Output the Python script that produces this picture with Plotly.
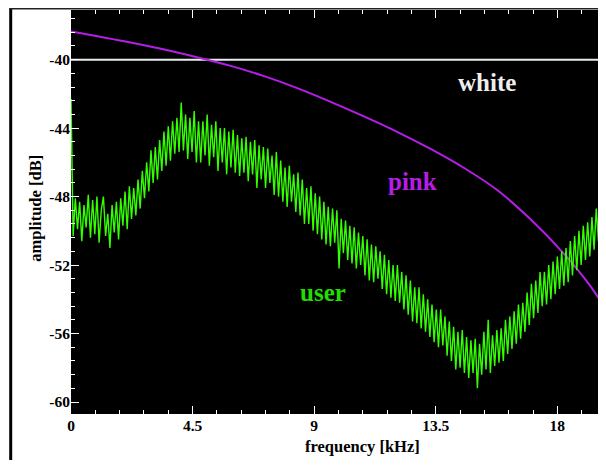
import plotly.graph_objects as go

# ---- data ----
x_ticks = [0, 4.5, 9, 13.5, 18]
x_tick_labels = ["0", "4.5", "9", "13.5", "18"]
y_ticks = [-40, -44, -48, -52, -56, -60]
y_tick_labels = ["-40", "-44", "-48", "-52", "-56", "-60"]

white_level = -40.0

pink_freq = [0, 2.06, 3.29, 4.77, 5.88, 7.12, 8.35, 9.59, 10.82, 12.05, 13.29,
             14.52, 15.76, 16.99, 18.22, 19.21, 19.8]
pink_db = [-38.35, -38.95, -39.35, -39.9, -40.35, -40.95, -41.65, -42.45, -43.3,
           -44.2, -45.2, -46.3, -47.6, -49.3, -51.3, -53.2, -54.6]

user_step_khz = 0.08
user_db = [
    -42.3, -50.3, -48.1, -49.9, -48.3, -50.6, -48.5, -49.8, -47.9, -50.4,
    -48.2, -50.2, -48.0, -50.7, -48.8, -48.0, -50.3, -49.0, -51.0, -48.5,
    -50.1, -48.3, -50.5, -48.1, -49.7, -47.7, -49.9, -47.4, -49.3, -47.5,
    -49.1, -47.0, -48.7, -46.5, -48.1, -46.0, -47.7, -45.3, -47.2, -45.1,
    -47.0, -44.7, -46.5, -44.2, -46.2, -43.9, -45.9, -43.6, -45.5, -43.4,
    -45.4, -42.5, -45.3, -43.2, -45.8, -43.4, -45.4, -43.0, -46.0, -43.6,
    -46.0, -43.6, -45.6, -43.2, -46.2, -43.8, -45.7, -43.6, -46.5, -44.0,
    -46.0, -44.0, -46.7, -44.2, -46.3, -44.1, -46.6, -44.4, -46.8, -44.6,
    -46.6, -44.5, -47.1, -44.8, -46.7, -44.7, -47.5, -45.0, -47.0, -45.1,
    -47.5, -45.2, -47.2, -45.6, -47.9, -45.4, -48.0, -45.9, -48.3, -46.3,
    -48.6, -46.2, -48.3, -46.7, -48.9, -46.6, -49.1, -47.0, -49.6, -47.5,
    -49.6, -47.4, -50.0, -47.8, -50.2, -48.0, -50.5, -48.3, -50.8, -48.6,
    -50.9, -48.7, -50.7, -48.8, -52.2, -49.3, -51.3, -49.4, -51.7, -49.7,
    -51.9, -49.8, -52.2, -50.1, -52.0, -50.3, -52.6, -50.5, -52.9, -50.8,
    -53.0, -50.9, -52.8, -51.2, -53.4, -51.4, -53.7, -51.7, -53.9, -52.0,
    -54.1, -52.0, -54.2, -52.4, -54.6, -52.6, -54.9, -52.9, -55.3, -53.3,
    -55.4, -53.3, -55.7, -53.7, -55.9, -54.0, -56.2, -54.3, -56.5, -54.6,
    -56.8, -54.6, -56.7, -55.0, -57.3, -55.3, -57.6, -55.6, -58.1, -55.9,
    -58.0, -55.8, -58.3, -56.2, -58.6, -56.4, -58.3, -56.3, -59.2, -56.6,
    -58.4, -55.9, -58.1, -55.2, -58.3, -56.1, -57.9, -55.8, -57.7, -55.7,
    -57.6, -55.2, -57.2, -55.0, -56.9, -54.7, -56.6, -54.3, -56.3, -54.2,
    -55.9, -53.6, -55.5, -53.1, -55.1, -52.9, -54.8, -52.4, -54.4, -52.4,
    -54.3, -52.0, -54.0, -51.8, -53.7, -51.5, -53.4, -51.2, -53.2, -51.0,
    -53.0, -50.6, -52.6, -50.3, -52.3, -50.0, -52.0, -49.7, -51.7, -49.5,
    -51.5, -49.2, -51.1, -48.7, -50.6, -48.1, -49.9, -47.7,
]
user_freq = [round(i * user_step_khz, 2) for i in range(len(user_db))]

x_range = [0, 19.8]
y_range = [-60.7, -37.1]

SERIF = "Liberation Serif"
GREEN = "#33ff00"
PINK = "#b41ee6"

fig = go.Figure()
fig.add_trace(go.Scatter(x=x_range, y=[white_level, white_level], mode="lines",
                         line=dict(color="#e6eeee", width=2), hoverinfo="skip"))
fig.add_trace(go.Scatter(x=pink_freq, y=pink_db, mode="lines",
                         line=dict(color=PINK, width=2, shape="spline", smoothing=0.8),
                         hoverinfo="skip"))
fig.add_trace(go.Scatter(x=user_freq, y=user_db, mode="lines",
                         line=dict(color=GREEN, width=1.4), hoverinfo="skip"))

tickfont = dict(family=SERIF, size=15.5, color="black", weight="bold")

fig.update_xaxes(range=x_range, tickmode="array", tickvals=x_ticks, ticktext=x_tick_labels,
                 ticks="inside", ticklen=8, tickwidth=1, tickcolor="white",
                 minor=dict(dtick=0.9, tick0=0, ticks="inside", ticklen=4, tickcolor="white"),
                 mirror="ticks", showgrid=False, zeroline=False, showline=False,
                 tickfont=tickfont)
fig.update_yaxes(range=y_range, tickmode="array", tickvals=y_ticks, ticktext=y_tick_labels,
                 ticks="inside", ticklen=8, tickwidth=1, tickcolor="white",
                 minor=dict(dtick=0.8, tick0=-60, ticks="inside", ticklen=4, tickcolor="white"),
                 mirror="ticks", showgrid=False, zeroline=False, showline=False,
                 tickfont=tickfont)

annotations = [
    dict(text="frequency [kHz]", x=0.544, y=-0.081, xref="paper", yref="paper",
         showarrow=False, font=dict(family=SERIF, size=16.5, color="black", weight="bold"),
         xanchor="center", yanchor="middle"),
    dict(text="amplitude [dB]", x=-0.066, y=0.51, xref="paper", yref="paper",
         showarrow=False, textangle=-90,
         font=dict(family=SERIF, size=16.5, color="black", weight="bold"),
         xanchor="center", yanchor="middle"),
    dict(text="white", x=15.38, y=-41.35, xref="x", yref="y", showarrow=False,
         font=dict(family=SERIF, size=25, color="#eeeeee", weight="bold")),
    dict(text="pink", x=12.65, y=-47.1, xref="x", yref="y", showarrow=False,
         font=dict(family=SERIF, size=25, color=PINK, weight="bold")),
    dict(text="user", x=9.33, y=-53.6, xref="x", yref="y", showarrow=False,
         font=dict(family=SERIF, size=25, color="#22dd00", weight="bold")),
]

shapes = [
    dict(type="line", xref="paper", yref="paper", x0=-0.1127, x1=-0.1127, y0=1.004, y1=-0.3,
         line=dict(color="black", width=3)),
    dict(type="line", xref="paper", yref="paper", x0=-0.1155, x1=1.2, y0=1.0031, y1=1.0031,
         line=dict(color="#222222", width=1.5)),
]

# the page body adds an 8px offset, so the figure is sized/margined to compensate
fig.update_layout(width=598, height=452, autosize=False,
                  margin=dict(l=63, r=0, t=2, b=46, pad=0),
                  paper_bgcolor="white", plot_bgcolor="black",
                  showlegend=False, annotations=annotations, shapes=shapes)

fig.write_html("out.html")
